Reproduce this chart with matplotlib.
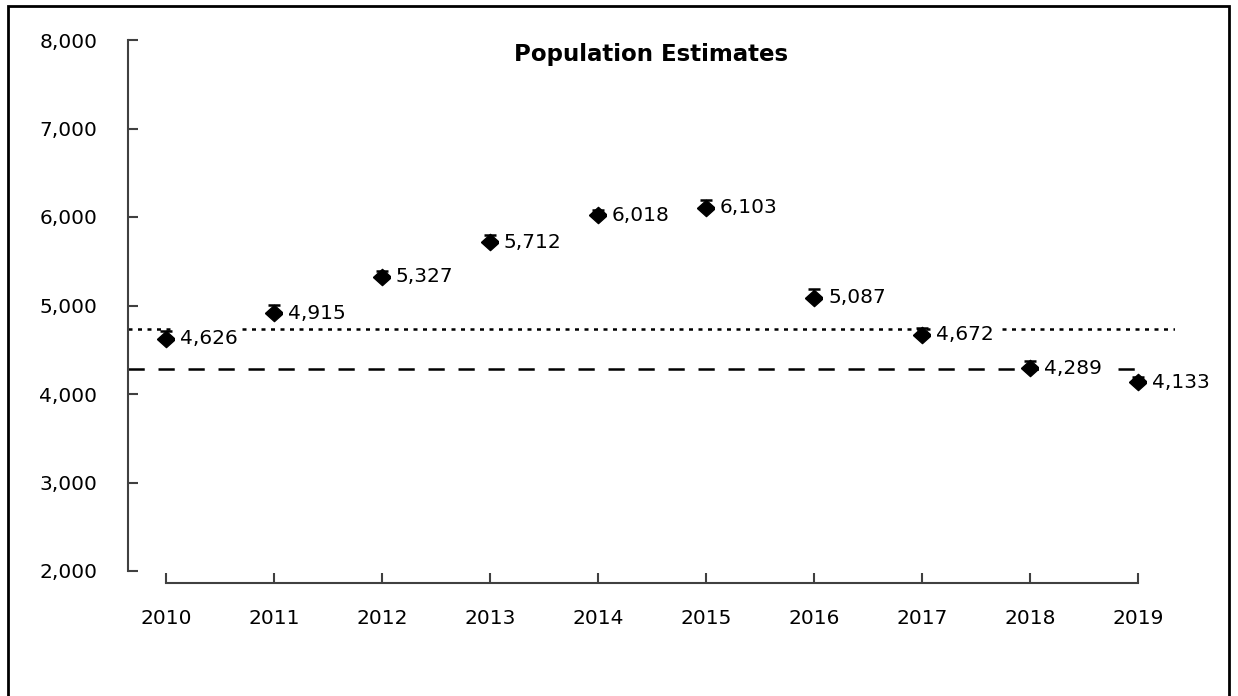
import matplotlib
matplotlib.use("Agg")
import matplotlib.pyplot as plt
from matplotlib.patches import Rectangle

plt.rcParams['font.family'] = ['DejaVu Sans']

years = [2010, 2011, 2012, 2013, 2014, 2015, 2016, 2017, 2018, 2019]
estimates = [4626, 4915, 5327, 5712, 6018, 6103, 5087, 4672, 4289, 4133]
err_upper = [90, 90, 60, 80, 60, 90, 100, 70, 80, 60]
labels = ["4,626", "4,915", "5,327", "5,712", "6,018", "6,103", "5,087", "4,672", "4,289", "4,133"]
dotted_level = 4735
dashed_level = 4280
yticks = [2000, 3000, 4000, 5000, 6000, 7000, 8000]
ytick_labels = ["2,000", "3,000", "4,000", "5,000", "6,000", "7,000", "8,000"]

W, H = 1238, 696
fig = plt.figure(figsize=(W / 100, H / 100), dpi=100)
ax = fig.add_axes([128 / W, 1 - 583 / H, (1175 - 128) / W, (583 - 40) / H])

ymin = 2000 - 12 / 88.5 * 1000
ax.set_ylim(ymin, 8000)
ax.set_xlim(2009.65, 2019.34)

ax.plot([2009.65, 2019.34], [dotted_level] * 2, color='black', lw=1.8,
        linestyle=(0, (1.6, 2.2)), zorder=1)
ax.plot([2009.65, 2019.11], [dashed_level] * 2, color='black', lw=1.8,
        linestyle=(0, (6.5, 5.5)), zorder=1)

diamond = [(-1, 0), (0, 0.9), (1, 0), (0, -0.9), (-1, 0)]
ax.errorbar(years, estimates, yerr=[[0] * len(years), err_upper], fmt='none',
            ecolor='black', capsize=4.5, elinewidth=1.3, capthick=1.8, zorder=2)
ax.plot(years, estimates, linestyle='none', marker=diamond, markersize=13,
        color='black', zorder=3)

for x, y, s in zip(years, estimates, labels):
    ax.annotate(s, (x, y), xytext=(10, 0), textcoords='offset points',
                ha='left', va='center', fontsize=14.5, zorder=4,
                bbox=dict(boxstyle='square,pad=0.25', fc='white', ec='none'))

ax.spines['top'].set_visible(False)
ax.spines['right'].set_visible(False)
ax.spines['left'].set_bounds(2000, 8000)
ax.spines['bottom'].set_bounds(2010, 2019)
ax.spines['bottom'].set_position(('data', ymin))
for sp in ['left', 'bottom']:
    ax.spines[sp].set_color('#404040')
    ax.spines[sp].set_linewidth(1.5)

ax.set_yticks(yticks)
ax.set_yticklabels(ytick_labels)
ax.set_xticks(years)
ax.set_xticklabels([str(y) for y in years])
ax.tick_params(axis='y', direction='in', length=7, width=1.5, color='#404040',
               pad=22, labelsize=14.5)
ax.tick_params(axis='x', direction='in', length=7, width=1.5, color='#404040',
               pad=18.5, labelsize=14.5)

fig.text(651.5 / W, 1 - 61 / H, "Population Estimates", fontsize=16.5,
         fontweight='bold', ha='center', va='baseline')

fig.patches.append(Rectangle((8 / W, -10 / H), (1229 - 8) / W, (690 + 10) / H,
                             transform=fig.transFigure, fill=False,
                             ec='black', lw=2))

fig.savefig("out.png", dpi=100)
